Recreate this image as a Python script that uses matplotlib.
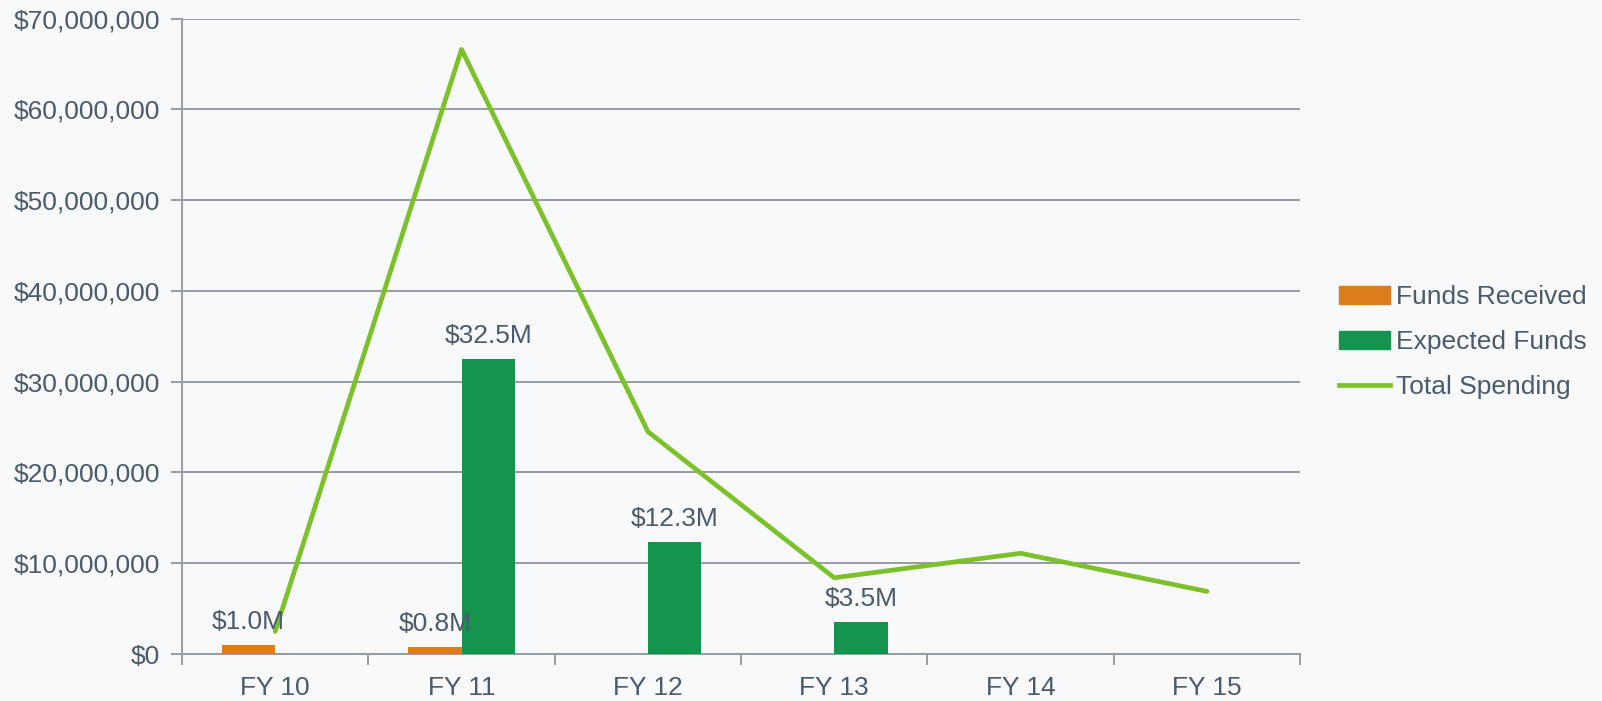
import numpy as np
import matplotlib
matplotlib.use("Agg")
import matplotlib.pyplot as plt
from matplotlib.ticker import FuncFormatter, FixedLocator
from matplotlib.patches import Patch
from matplotlib.lines import Line2D

# data
years = ["FY 10", "FY 11", "FY 12", "FY 13", "FY 14", "FY 15"]
funds_received = [1.0e6, 0.8e6, 0, 0, 0, 0]
expected_funds = [0, 32.5e6, 12.3e6, 3.5e6, 0, 0]
total_spending = [2.5e6, 66.6e6, 24.5e6, 8.4e6, 11.1e6, 6.9e6]
received_labels = ["$1.0M", "$0.8M", "", "", "", ""]
expected_labels = ["", "$32.5M", "$12.3M", "$3.5M", "", ""]

ORANGE = "#de7b1a"
GREEN = "#15944e"
LIME = "#7cc02c"
TXT = "#4b5b69"
GRID = "#969ca1"
BG = "#f8f9fb"
FS = 19

plt.rcParams['font.family'] = ['Liberation Sans', 'DejaVu Sans']

fig = plt.figure(figsize=(16.02, 7.01), dpi=100, facecolor=BG)
ax = fig.add_axes([0.1136, 0.067, 0.698, 0.9065])
ax.set_facecolor(BG)

x = np.arange(len(years))
w = 0.287
b1 = ax.bar(x - w / 2, funds_received, w, color=ORANGE, zorder=3)
b2 = ax.bar(x + w / 2, expected_funds, w, color=GREEN, zorder=3)
ax.plot(x, total_spending, color=LIME, lw=3.4, solid_capstyle='round', zorder=4)

# value labels above the bars
for bars, labels in [(b1, received_labels), (b2, expected_labels)]:
    for rect, lab in zip(bars, labels):
        if lab:
            ax.annotate(lab, (rect.get_x() + rect.get_width() / 2, rect.get_height()),
                        xytext=(0, 8), textcoords="offset points", ha="center",
                        va="bottom", fontsize=FS, color=TXT, zorder=5)

ax.set_xlim(-0.5, len(years) - 0.5)
ax.set_ylim(0, 70e6)
ax.yaxis.set_major_locator(FixedLocator(np.arange(0, 70e6 + 1, 10e6)))
ax.yaxis.set_major_formatter(FuncFormatter(lambda v, p: "${:,.0f}".format(v)))
ax.grid(axis="y", color=GRID, lw=1.4, zorder=0)
ax.set_xticks(x)
ax.set_xticklabels(years)
ax.set_xticks(np.arange(-0.5, len(years)), minor=True)
ax.tick_params(axis="x", which="major", length=0, pad=16, labelsize=FS, labelcolor=TXT)
ax.tick_params(axis="x", which="minor", length=8, width=1.4, color=GRID)
ax.tick_params(axis="y", length=8, width=1.4, color=GRID, labelsize=FS,
               labelcolor=TXT, pad=8)
for s in ["top", "right"]:
    ax.spines[s].set_visible(False)
for s in ["left", "bottom"]:
    ax.spines[s].set_color(GRID)
    ax.spines[s].set_linewidth(1.4)

handles = [Patch(color=ORANGE), Patch(color=GREEN), Line2D([], [], color=LIME, lw=3.4)]
fig.legend(handles, ["Funds Received", "Expected Funds", "Total Spending"],
           loc="center left", bbox_to_anchor=(0.821, 0.512), frameon=False,
           fontsize=FS, labelcolor=TXT, handlelength=1.95, handletextpad=0.2,
           labelspacing=0.8)

fig.savefig("out.png", dpi=100, facecolor=BG)
